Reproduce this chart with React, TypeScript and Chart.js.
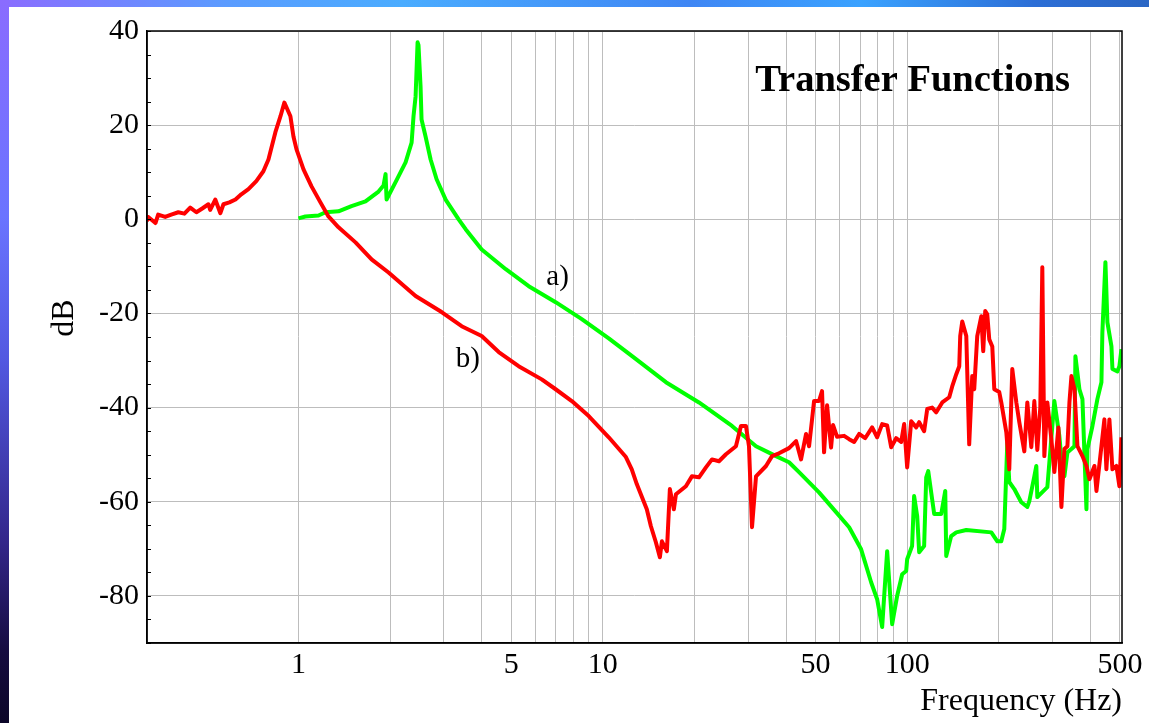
import React, { useEffect, useRef } from "react";
import { Chart, registerables } from "chart.js";

Chart.register(...registerables);

// Curve b) (red) – frequency in Hz and magnitude in dB
const freqB = [
  0.318, 0.321, 0.339, 0.346, 0.365, 0.382, 0.403, 0.422, 0.441, 0.462,
  0.483, 0.506, 0.513, 0.533, 0.554, 0.567, 0.593, 0.621, 0.649, 0.685,
  0.727, 0.767, 0.797, 0.84, 0.873, 0.899, 0.941, 0.963, 0.985, 1.039,
  1.104, 1.181, 1.255, 1.354, 1.54, 1.739, 1.977, 2.426, 2.954, 3.438,
  4.0, 4.55, 5.29, 6.3, 7.0, 7.91, 8.99, 10.46, 11.91, 12.45,
  12.94, 13.95, 14.39, 14.94, 15.4, 15.64, 16.24, 16.61, 17.12, 17.39,
  18.75, 19.62, 20.7, 21.82, 22.84, 24.08, 25.39, 27.38, 28.44, 29.54,
  30.22, 30.92, 31.87, 34.38, 35.97, 37.93, 40.91, 43.15, 44.81, 46.54,
  47.61, 48.7, 49.45, 51.33, 52.52, 53.33, 54.56, 56.23, 57.1, 58.85,
  62.07, 64.46, 66.95, 69.53, 72.76, 76.72, 79.68, 82.76, 85.95, 88.6,
  92.0, 95.56, 97.75, 100, 103.1, 107.1, 109.5, 113.7, 116.4, 120.8,
  124.6, 130.4, 137.5, 140.6, 145.0, 148.3, 149.4, 151.7, 156.4, 159.9,
  163.6, 166.1, 169.9, 175.2, 177.8, 180.5, 183.3, 186.1, 190.4, 193.3,
  200.7, 203.8, 211.7, 216.5, 221.5, 228.4, 233.6, 242.6, 248.2, 255.8,
  261.7, 267.7, 273.8, 278.0, 282.3, 288.8, 297.7, 304.5, 314.0, 321.2,
  328.6, 336.2, 341.3, 346.5, 354.5, 362.6, 376.6, 388.2, 397.1, 412.4,
  418.7, 434.8, 444.6, 451.4, 461.8, 472.5, 486.9, 498.1, 505.8,
];
const dbB = [
  -0.4, 0.5, -0.8, 1.0, 0.5, 1.0, 1.5, 1.2, 2.5, 1.5,
  2.3, 3.2, 2.0, 4.2, 1.3, 3.2, 3.6, 4.2, 5.3, 6.4,
  8.1, 10.2, 12.7, 18.5, 21.9, 24.8, 21.9, 17.6, 14.9, 10.6,
  7.0, 3.6, 0.6, -1.7, -4.9, -8.5, -11.3, -16.3, -19.7, -22.7,
  -24.8, -28.2, -31.2, -34.0, -36.1, -38.6, -41.8, -46.3, -50.5, -53.1,
  -56.3, -61.6, -65.2, -68.6, -71.8, -68.4, -70.5, -57.3, -61.6, -58.4,
  -56.7, -54.6, -54.8, -52.7, -51.0, -51.4, -49.9, -48.2, -43.9, -43.9,
  -48.2, -65.4, -54.6, -52.4, -50.3, -49.7, -48.6, -47.1, -51.0, -45.6,
  -48.2, -42.5, -38.6, -38.6, -36.5, -49.5, -39.5, -48.5, -43.7, -46.2,
  -46.0, -46.7, -47.3, -45.6, -46.5, -44.2, -46.3, -43.5, -43.8, -48.4,
  -46.5, -47.3, -43.5, -52.7, -42.9, -44.2, -43.1, -45.0, -40.3, -40.0,
  -41.0, -38.9, -37.8, -35.5, -32.9, -31.2, -24.8, -21.7, -24.8, -47.8,
  -33.3, -36.1, -24.8, -20.6, -28.0, -19.5, -20.2, -25.5, -27.0, -36.1,
  -36.7, -38.9, -45.2, -53.1, -31.8, -38.9, -43.1, -49.3, -38.9, -48.4,
  -38.6, -49.0, -40.0, -10.2, -50.3, -38.9, -46.7, -53.7, -44.2, -61.1,
  -48.8, -48.2, -38.9, -33.3, -36.1, -48.2, -50.3, -52.4, -55.2, -52.4,
  -57.7, -48.2, -42.5, -53.1, -42.5, -53.1, -52.4, -56.7, -46.3,
];

// Curve a) (green)
const freqA = [
  1.0, 1.054, 1.164, 1.227, 1.354, 1.494, 1.661, 1.833, 1.904, 1.933,
  1.948, 2.085, 2.249, 2.354, 2.389, 2.426, 2.463, 2.48, 2.519, 2.538,
  2.616, 2.718, 2.844, 3.045, 3.36, 3.542, 4.0, 4.8, 5.71, 7.0,
  8.53, 10.46, 12.45, 16.12, 20.7, 26.57, 31.87, 37.08, 40.91, 44.13,
  51.33, 58.41, 64.46, 70.59, 76.14, 79.68, 82.76, 85.95, 89.27, 92.7,
  96.3, 99.25, 100, 103.8, 105.4, 107.9, 109.5, 113.7, 115.5, 117.3,
  122.7, 129.4, 133.4, 134.4, 139.5, 145.0, 156.4, 189.0, 197.8, 203.8,
  208.5, 213.3, 216.5, 224.9, 237.1, 248.2, 251.9, 261.7, 265.7, 267.7,
  288.8, 304.5, 316.2, 323.6, 328.6, 336.2, 346.5, 354.5, 357.1, 368.1,
  376.6, 388.2, 391.1, 406.2, 421.7, 434.8, 437.9, 448.1, 454.9, 469.0,
  472.5, 490.7, 498.1, 505.8,
];
const dbA = [
  0.2, 0.6, 0.8, 1.5, 1.7, 2.8, 3.8, 5.9, 7.2, 9.6,
  4.2, 7.9, 12.1, 16.3, 22, 26.1, 37.6, 37, 28.2, 21.2,
  17.6, 12.7, 8.5, 4.2, 0, -2.1, -6.4, -10.6, -14.2, -17.6,
  -21.2, -25.3, -29.0, -34.6, -38.9, -43.9, -48.2, -50.3, -51.6, -53.7,
  -58.0, -62.2, -65.4, -70.1, -77.1, -80.7, -86.6, -70.5, -86.0, -80.0,
  -75.4, -74.7, -72.2, -69.4, -58.8, -63.1, -70.7, -69.4, -54.8, -53.5,
  -62.6, -62.6, -57.7, -71.5, -67.3, -66.5, -66.0, -66.5, -68.4, -68.4,
  -65.8, -47.4, -55.8, -57.3, -60.1, -61.1, -59.9, -54.6, -52.4, -59.0,
  -56.9, -38.6, -46.0, -53.1, -54.6, -49.5, -48.8, -48.2, -29.1, -36.1,
  -38.2, -61.6, -48.8, -43.9, -38.2, -34.6, -24.0, -9.1, -21.9, -27.0,
  -31.8, -32.3, -31.2, -27.6,
];

const xMin = 0.318;
const xMax = 508;
const gridFreqs = [1, 2, 3, 4, 5, 6, 7, 8, 9, 10, 20, 30, 40, 50, 60, 70, 80, 90, 100, 200, 300, 400, 500];
const xLabels = [1, 5, 10, 50, 100, 500];
const yTicks = [-80, -60, -40, -20, 0, 20, 40];
const yMinor = [-90, -85, -80, -75, -70, -65, -60, -55, -50, -45, -40, -35, -30, -25, -20, -15, -10, -5, 0, 5, 10, 15, 20, 25, 30, 35, 40];

const titleText = "Transfer Functions";
const xTitle = "Frequency (Hz)";
const yTitle = "dB";
const labelA = { text: "a)", f: 7.1, db: -12.3 };
const labelB = { text: "b)", f: 3.6, db: -29.8 };

const SERIF = '"Liberation Serif", "Times New Roman", serif';

const decor = {
  id: "decor",
  afterDraw(chart: any) {
    const { ctx, chartArea: a, scales } = chart;
    ctx.save();
    ctx.strokeStyle = "#000";
    ctx.lineWidth = 1.5;
    ctx.strokeRect(a.left, a.top, a.right - a.left, a.bottom - a.top);
    ctx.lineWidth = 1;
    for (const v of yMinor) {
      const y = Math.round(scales.y.getPixelForValue(v)) + 0.5;
      ctx.beginPath();
      ctx.moveTo(a.left, y);
      ctx.lineTo(a.left + 4, y);
      ctx.stroke();
    }
    ctx.fillStyle = "#000";
    // title
    ctx.font = `bold 38.5px ${SERIF}`;
    ctx.textAlign = "right";
    ctx.textBaseline = "alphabetic";
    ctx.fillText(titleText, 1070, 91);
    // x title
    ctx.font = `32px ${SERIF}`;
    ctx.textAlign = "right";
    ctx.textBaseline = "middle";
    ctx.fillText(xTitle, a.right, 702);
    // y title
    ctx.save();
    ctx.translate(65, 318);
    ctx.rotate(-Math.PI / 2);
    ctx.textAlign = "center";
    ctx.textBaseline = "middle";
    ctx.fillText(yTitle, 0, 0);
    ctx.restore();
    // curve labels
    ctx.font = `29px ${SERIF}`;
    ctx.textAlign = "center";
    ctx.textBaseline = "middle";
    for (const l of [labelA, labelB]) {
      ctx.fillText(l.text, scales.x.getPixelForValue(l.f), scales.y.getPixelForValue(l.db));
    }
    ctx.restore();
  },
};

export default function App() {
  const ref = useRef<HTMLCanvasElement | null>(null);

  useEffect(() => {
    document.body.style.margin = "0";
    const canvas = ref.current;
    if (!canvas) return;
    const chart = new Chart(canvas, {
      type: "scatter",
      data: {
        datasets: [
          {
            label: "b)",
            data: freqB.map((f, i) => ({ x: f, y: dbB[i] })),
            borderColor: "#ff0000",
            backgroundColor: "#ff0000",
            borderWidth: 4,
            showLine: true,
            pointRadius: 0,
            tension: 0,
            borderJoinStyle: "round",
          },
          {
            label: "a)",
            data: freqA.map((f, i) => ({ x: f, y: dbA[i] })),
            borderColor: "#00ff00",
            backgroundColor: "#00ff00",
            borderWidth: 4,
            showLine: true,
            pointRadius: 0,
            tension: 0,
            borderJoinStyle: "round",
          },
        ],
      },
      options: {
        responsive: false,
        animation: false,
        events: [],
        layout: { padding: { left: 0, top: 31, right: 27, bottom: 0 } },
        plugins: { legend: { display: false }, tooltip: { enabled: false }, title: { display: false } },
        scales: {
          x: {
            type: "logarithmic",
            bounds: "data",
            min: xMin,
            max: xMax,
            afterFit: (s: any) => {
              s.height = 80;
            },
            afterBuildTicks: (s: any) => {
              s.min = xMin;
              s.max = xMax;
              s.ticks = gridFreqs.map((v) => ({ value: v }));
            },
            ticks: {
              autoSkip: false,
              maxRotation: 0,
              padding: 4,
              color: "#000",
              font: { family: SERIF, size: 30 },
              callback: (v: any) => (xLabels.includes(Number(v)) ? String(v) : ""),
            },
            grid: { color: "#bdbdbd", lineWidth: 1, drawTicks: false },
            border: { display: true, color: "#000", width: 1.5 },
          },
          y: {
            min: -90,
            max: 40,
            afterFit: (s: any) => {
              s.width = 147;
            },
            afterBuildTicks: (s: any) => {
              s.ticks = yTicks.map((v) => ({ value: v }));
            },
            ticks: {
              padding: 8,
              color: "#000",
              font: { family: SERIF, size: 30 },
              callback: (v: any) => String(v),
            },
            grid: { color: "#bdbdbd", lineWidth: 1, drawTicks: false },
            border: { display: true, color: "#000", width: 1.5 },
          },
        },
      },
      plugins: [decor],
    });
    return () => chart.destroy();
  }, []);

  return (
    <div style={{ position: "fixed", left: 0, top: 0, width: 1149, height: 723, background: "#fff", overflow: "hidden" }}>
      <div
        style={{
          position: "absolute",
          left: 0,
          top: 0,
          width: 1149,
          height: 7,
          background: "linear-gradient(90deg, #8a6cff 0%, #5a9cff 20%, #4aacff 35%, #3f86f4 60%, #3aa2ff 75%, #2c6ed6 90%, #2a66c4 100%)",
        }}
      />
      <div
        style={{
          position: "absolute",
          left: 0,
          top: 0,
          width: 9,
          height: 723,
          background: "linear-gradient(180deg, #8a6cff 0%, #6a74ff 30%, #5258e0 50%, #33268a 75%, #160c40 90%, #0c0628 100%)",
        }}
      />
      <canvas ref={ref} width={1149} height={723} style={{ position: "absolute", left: 0, top: 0, width: 1149, height: 723 }} />
    </div>
  );
}
